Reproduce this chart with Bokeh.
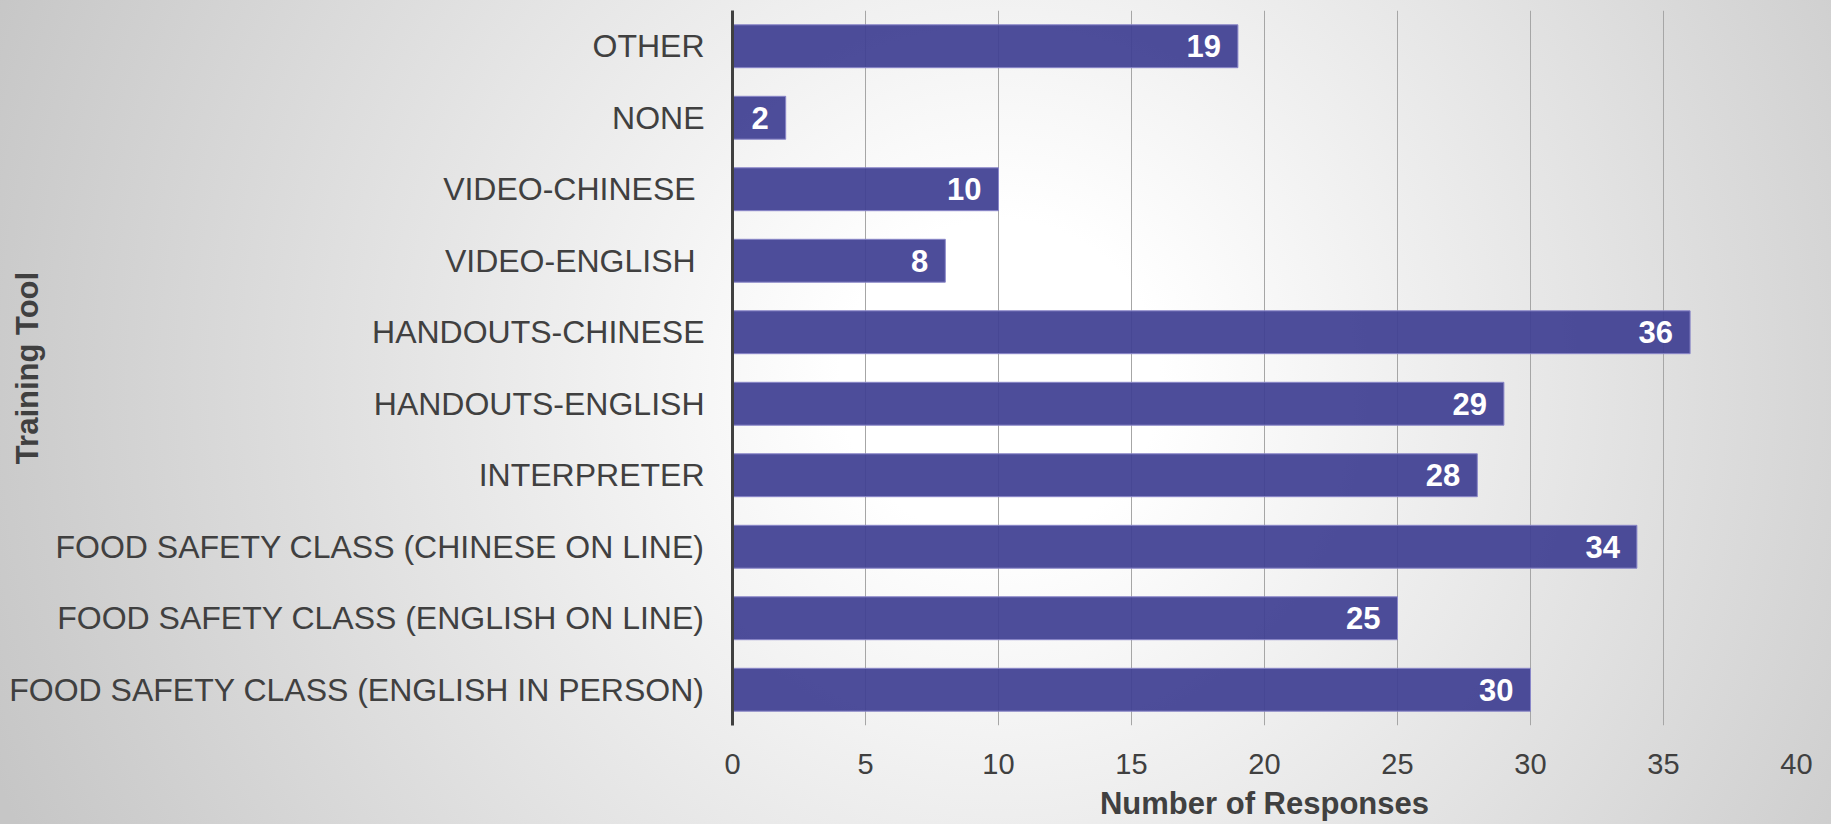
from bokeh.plotting import figure
from bokeh.models import Range1d, FactorRange, ColumnDataSource, FixedTicker
from bokeh.core.properties import value
from bokeh.embed import file_html
from bokeh.resources import INLINE

# ---- data (top to bottom as shown) ----
categories = [
    "OTHER",
    "NONE",
    "VIDEO-CHINESE ",
    "VIDEO-ENGLISH ",
    "HANDOUTS-CHINESE",
    "HANDOUTS-ENGLISH",
    "INTERPRETER",
    "FOOD SAFETY CLASS (CHINESE ON LINE)",
    "FOOD SAFETY CLASS (ENGLISH ON LINE)",
    "FOOD SAFETY CLASS (ENGLISH IN PERSON)",
]
responses = [19, 2, 10, 8, 36, 29, 28, 34, 25, 30]
x_ticks = [0, 5, 10, 15, 20, 25, 30, 35, 40]
x_title = "Number of Responses"
y_title = "Training Tool"

FONT = "Liberation Sans"
TEXT_COLOR = "#404040"

src = ColumnDataSource(dict(cat=categories, val=responses, lab=[str(v) for v in responses]))

W, H = 1831, 824
BL, BR, BT, BB = 732, 35, 10, 99

p = figure(
    width=W, height=H,
    y_range=FactorRange(factors=categories[::-1]),
    x_range=Range1d(0, 40),
    output_backend="svg", toolbar_location=None,
    min_border_left=BL, min_border_right=BR, min_border_top=BT, min_border_bottom=BB,
)

p.background_fill_color = None
p.border_fill_color = None
p.outline_line_color = None
p.styles = {
    "background": "radial-gradient(circle at 1000px 380px, #ffffff 0px, #ffffff 160px, #c6c6c6 1080px)"
}

p.hbar(y="cat", right="val", left=0, height=0.6, source=src,
       fill_color="#3f3f92", fill_alpha=0.93, line_color="#8a87c9", line_width=1)

p.text(x="val", y="cat", text="lab", source=src, x_offset=-17,
       text_align="right", text_baseline="middle", text_color="white",
       text_font=value(FONT), text_font_style="bold", text_font_size="31px")

# y axis
ya = p.yaxis[0]
ya.axis_line_color = TEXT_COLOR
ya.axis_line_width = 3
ya.major_tick_line_color = None
ya.major_tick_out = 0
ya.major_tick_in = 0
ya.major_label_standoff = 28
ya.major_label_text_font = FONT
ya.major_label_text_font_size = "32px"
ya.major_label_text_color = TEXT_COLOR
ya.axis_label = y_title
ya.axis_label_standoff = -39
ya.axis_label_text_font = FONT
ya.axis_label_text_font_style = "bold"
ya.axis_label_text_font_size = "31px"
ya.axis_label_text_color = TEXT_COLOR

# x axis
xa = p.xaxis[0]
xa.ticker = FixedTicker(ticks=x_ticks)
xa.axis_line_color = None
xa.major_tick_line_color = None
xa.minor_tick_line_color = None
xa.major_tick_out = 0
xa.major_tick_in = 0
xa.major_label_standoff = 28
xa.major_label_text_font = FONT
xa.major_label_text_font_size = "29px"
xa.major_label_text_color = TEXT_COLOR
xa.axis_label = x_title
xa.axis_label_standoff = 9
xa.axis_label_text_font = FONT
xa.axis_label_text_font_style = "bold"
xa.axis_label_text_font_size = "31px"
xa.axis_label_text_color = TEXT_COLOR

p.xgrid.ticker = FixedTicker(ticks=x_ticks)
p.xgrid.grid_line_color = "#a6a6a6"
p.xgrid.grid_line_width = 1
p.ygrid.grid_line_color = None

open("out.html", "w").write(file_html(p, INLINE))
